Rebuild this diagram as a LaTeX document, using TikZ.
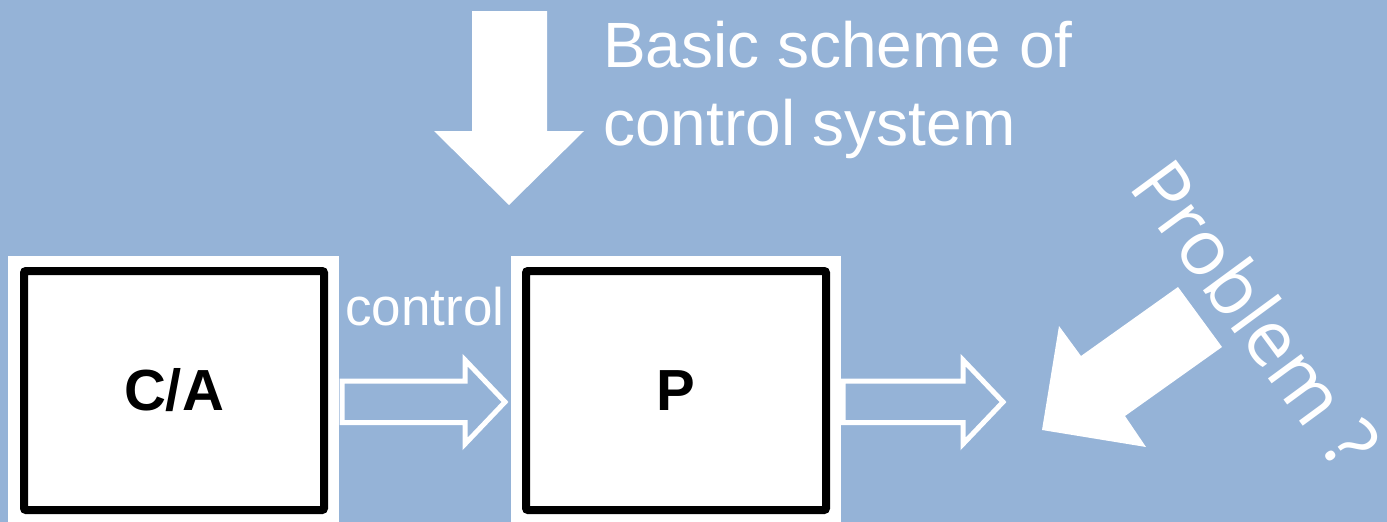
\documentclass[tikz,border=0pt]{standalone}
\usepackage{fontspec}
\setmainfont{Liberation Sans}
\newfontfamily\probfont{Open Sans}
\definecolor{bg}{RGB}{149,179,215}
\begin{document}
\begin{tikzpicture}[x=1pt,y=-1pt,
  panel/.style={fill=white,draw=none,inner sep=0pt},
  blockbox/.style={draw=black,line width=8pt,fill=white,rounded corners=2pt,inner sep=0pt,
    font=\fontsize{58}{70}\selectfont\bfseries},
  hollow/.style={draw=white,line width=5pt,line join=miter},
  solidarrow/.style={fill=white,draw=none},
  whitetext/.style={text=white,inner sep=0pt},
]
\fill[bg] (0,0) rectangle (1387,522);
\useasboundingbox (0,0) rectangle (1387,522);

% white panels
\node[panel,minimum width=331pt,minimum height=266pt] (capanel) at (173.5,389) {};
\node[panel,minimum width=330pt,minimum height=266pt] (ppanel) at (676,389) {};

% blocks
\node[blockbox,minimum width=300pt,minimum height=239pt] (ca) at (174,390.5) {C/A};
\node[blockbox,minimum width=300pt,minimum height=239pt] (p) at (676,390.5) {P};

% hollow arrows
\draw[hollow] (342,381) -- (465,381) -- (465,360) -- (505,402) -- (465,444) -- (465,422.5) -- (342,422.5) -- cycle;
\draw[hollow] (843,381) -- (963,381) -- (963,360) -- (1003,402) -- (963,444) -- (963,422.5) -- (843,422.5) -- cycle;

% control label
\node[whitetext,anchor=base west,font=\fontsize{53}{60}\selectfont] (ctl) at (345,325) {control};

% down arrow
\fill[solidarrow] (472,11) -- (547,11) -- (547,131) -- (584,131) -- (509,205) -- (434,131) -- (472,131) -- cycle;

% title
\node[whitetext,anchor=base west,font=\fontsize{64}{78}\selectfont] (t1) at (603,67) {Basic scheme of};
\node[whitetext,anchor=base west,font=\fontsize{64}{78}\selectfont] (t2) at (603,145) {control system};

% problem arrow
\fill[solidarrow] (1178,287) -- (1222,347) -- (1125,416) -- (1146,447) -- (1042,430) -- (1059,326) -- (1081,356) -- cycle;

% problem text
\node[whitetext,anchor=base west,rotate=-53.7,font=\probfont\fontsize{77}{90}\selectfont] (prob) at (1127,186) {Problem ?};
\end{tikzpicture}
\end{document}
